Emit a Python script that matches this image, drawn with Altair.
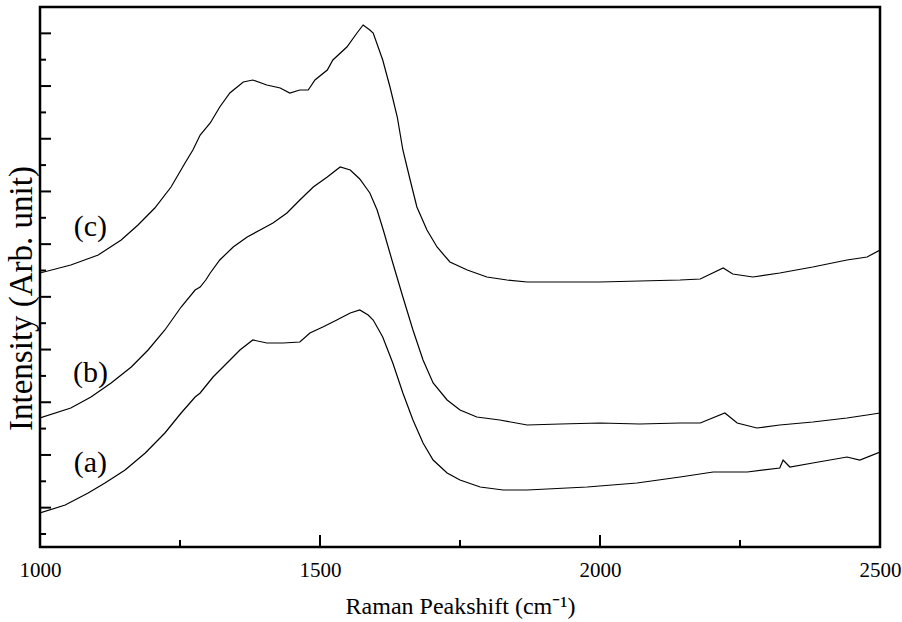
import altair as alt
import pandas as pd

# Raman spectra (wavenumber in cm^-1, intensity in arbitrary units)
wn_a = [1000, 1045, 1086, 1116, 1152, 1188, 1223, 1252, 1277, 1286, 1309, 1334, 1357, 1380,
        1405, 1434, 1464, 1482, 1505, 1530, 1554, 1571, 1586, 1595, 1612, 1630, 1648, 1666,
        1684, 1702, 1727, 1750, 1786, 1827, 1870, 1977, 2066, 2143, 2202, 2263, 2321, 2327,
        2339, 2380, 2441, 2464, 2500]
int_a = [21, 29, 41, 51, 64, 81, 101, 121, 137, 141, 157, 171, 184, 194,
         191, 191, 192, 201, 207, 214, 221, 224, 219, 214, 197, 171, 141, 114,
         91, 74, 61, 54, 47, 44, 44, 47, 51, 57, 62, 62, 66, 74,
         67, 71, 77, 74, 82]

wn_b = [1000, 1055, 1091, 1127, 1163, 1193, 1223, 1252, 1277, 1286, 1296, 1304, 1321, 1345,
        1370, 1393, 1416, 1441, 1464, 1488, 1513, 1536, 1554, 1571, 1589, 1602, 1613, 1630,
        1648, 1666, 1684, 1702, 1727, 1750, 1780, 1821, 1870, 1929, 2000, 2071, 2143, 2179,
        2223, 2245, 2280, 2321, 2380, 2441, 2477, 2500]
int_b = [116, 126, 137, 151, 167, 184, 204, 227, 244, 247, 254, 261, 274, 287,
         297, 304, 311, 321, 334, 347, 357, 367, 364, 355, 341, 324, 304, 271,
         237, 204, 174, 151, 134, 124, 117, 114, 109, 110, 111, 110, 111, 111,
         121, 111, 106, 109, 112, 116, 119, 121]

wn_c = [1000, 1055, 1104, 1145, 1175, 1205, 1234, 1259, 1273, 1286, 1304, 1321, 1339, 1363,
        1380, 1405, 1429, 1446, 1464, 1479, 1491, 1513, 1523, 1548, 1566, 1577, 1589, 1595,
        1612, 1625, 1638, 1648, 1661, 1673, 1691, 1709, 1732, 1763, 1798, 1834, 1870, 1929,
        2000, 2071, 2143, 2179, 2220, 2237, 2273, 2321, 2380, 2441, 2477, 2500]
int_c = [261, 269, 279, 294, 309, 326, 347, 371, 384, 399, 411, 427, 441, 452,
         454, 449, 446, 441, 444, 444, 454, 464, 474, 487, 501, 509, 504, 501,
         474, 447, 417, 384, 354, 327, 304, 287, 272, 264, 257, 254, 252, 252,
         252, 253, 254, 255, 266, 260, 257, 261, 267, 274, 277, 284]

labels = ["(a)", "(b)", "(c)"]
label_wn = [1090, 1090, 1090]
label_int = [71, 161, 307]

x_major = [1000, 1500, 2000, 2500]
x_minor = [1250, 1750, 2250]
y_major = [26.35, 79.05, 131.75, 184.45, 237.15, 289.85, 342.55, 395.25, 447.95, 500.65]
y_minor = [0, 52.7, 105.4, 158.1, 210.8, 263.5, 316.2, 368.9, 421.6, 474.3]

rows = []
for name, wn, it in [("a", wn_a, int_a), ("b", wn_b, int_b), ("c", wn_c, int_c)]:
    for w, v in zip(wn, it):
        rows.append({"series": name, "wavenumber": w, "intensity": v})
df = pd.DataFrame(rows)
lab_df = pd.DataFrame({"label": labels, "wavenumber": label_wn, "intensity": label_int})

FONT = "Liberation Serif"
x_scale = alt.Scale(domain=[1000, 2500], nice=False, zero=False)
y_scale = alt.Scale(domain=[-13, 527], nice=False, zero=False)

x_axis = alt.Axis(title="Raman Peakshift (cm⁻¹)", values=x_major, format="d",
                  ticks=False, domain=False, grid=False, labelFlush=False,
                  labelOverlap=False,
                  labelFont=FONT, labelFontSize=21, labelColor="black",
                  labelPadding=12,
                  titleFont=FONT, titleFontSize=24, titleFontWeight="normal",
                  titleColor="black", titleY=66, titleBaseline="alphabetic")
y_axis = alt.Axis(title="Intensity (Arb. unit)", labels=False, ticks=False,
                  domain=False, grid=False,
                  titleFont=FONT, titleFontSize=33, titleFontWeight="normal",
                  titleColor="black", titleX=-9, titleY=291,
                  titleBaseline="alphabetic")

lines = alt.Chart(df).mark_line(color="black", strokeWidth=1.2, clip=True).encode(
    x=alt.X("wavenumber:Q", scale=x_scale, axis=x_axis),
    y=alt.Y("intensity:Q", scale=y_scale, axis=y_axis),
    detail="series:N",
)

ymaj = alt.Chart(pd.DataFrame({"intensity": y_major})).mark_rule(color="black", strokeWidth=2).encode(
    y=alt.Y("intensity:Q", scale=y_scale, axis=y_axis), x=alt.value(0), x2=alt.value(11))
ymin = alt.Chart(pd.DataFrame({"intensity": y_minor})).mark_rule(color="black", strokeWidth=2).encode(
    y=alt.Y("intensity:Q", scale=y_scale, axis=y_axis), x=alt.value(0), x2=alt.value(6))
xmaj = alt.Chart(pd.DataFrame({"wavenumber": x_major})).mark_rule(color="black", strokeWidth=2).encode(
    x=alt.X("wavenumber:Q", scale=x_scale, axis=x_axis), y=alt.value(540), y2=alt.value(528))
xmin = alt.Chart(pd.DataFrame({"wavenumber": x_minor})).mark_rule(color="black", strokeWidth=2).encode(
    x=alt.X("wavenumber:Q", scale=x_scale, axis=x_axis), y=alt.value(540), y2=alt.value(533))

texts = alt.Chart(lab_df).mark_text(font=FONT, fontSize=30, color="black",
                                    align="center", baseline="middle").encode(
    x=alt.X("wavenumber:Q", scale=x_scale, axis=x_axis),
    y=alt.Y("intensity:Q", scale=y_scale, axis=y_axis),
    text="label:N",
)

chart = alt.layer(lines, ymaj, ymin, xmaj, xmin, texts).properties(
    width=840, height=540,
    autosize=alt.AutoSizeParams(type="none"),
    padding={"left": 40, "top": 7, "right": 22, "bottom": 75},
    background="white",
).configure_view(stroke="black", strokeWidth=2.5)

chart.save("out.html", embed_options={"renderer": "svg", "actions": False})
